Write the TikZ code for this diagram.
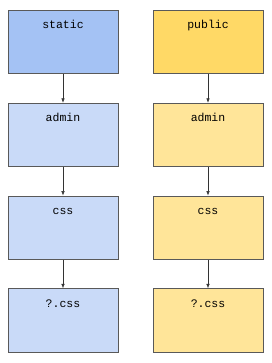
\documentclass[tikz,border=0pt]{standalone}
\usepackage{fontspec}
\setmonofont{Liberation Mono}
\usepackage{xcolor}
\usetikzlibrary{positioning,arrows.meta}

\definecolor{blueTop}{HTML}{A4C2F4}
\definecolor{blueSub}{HTML}{C9DAF8}
\definecolor{yellowTop}{HTML}{FFD966}
\definecolor{yellowSub}{HTML}{FFE599}
\definecolor{edge}{HTML}{595959}

\begin{document}
\begin{tikzpicture}[
  x=1pt, y=1pt,
  font=\ttfamily\fontsize{11.5pt}{13pt}\selectfont,
  line/.style={-{Latex[length=4.5pt, width=3.5pt]}, line width=0.6pt, draw=black!80},
  box/.style={draw=edge, line width=0.8pt, minimum width=110pt, inner ysep=0pt, text height=18.5pt, text depth=45pt, anchor=north},
  staticbox/.style={box, fill=blueSub},
  publicbox/.style={box, fill=yellowSub}
]
\useasboundingbox[fill=white] (0,0) rectangle (272,-363);

% static tree
\node[staticbox, fill=blueTop] (static) at (63,-10) {static};
\node[staticbox, below=28.5pt of static] (sadmin) {admin};
\node[staticbox, below=28.5pt of sadmin] (scss) {css};
\node[staticbox, below=28.5pt of scss] (sfile) {?.css};

% public tree
\node[publicbox, fill=yellowTop] (public) at (208,-10) {public};
\node[publicbox, below=28.5pt of public] (padmin) {admin};
\node[publicbox, below=28.5pt of padmin] (pcss) {css};
\node[publicbox, below=28.5pt of pcss] (pfile) {?.css};

% arrows
\draw[line] (static) -- (sadmin);
\draw[line] (sadmin) -- (scss);
\draw[line] (scss) -- (sfile);
\draw[line] (public) -- (padmin);
\draw[line] (padmin) -- (pcss);
\draw[line] (pcss) -- (pfile);
\end{tikzpicture}
\end{document}
